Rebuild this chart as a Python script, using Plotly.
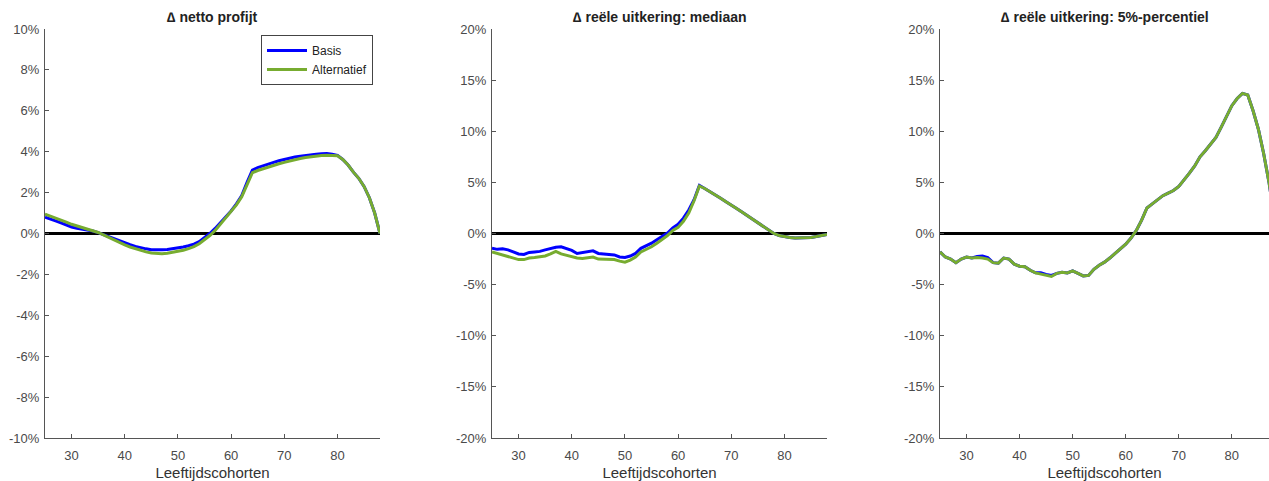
import plotly.graph_objects as go

# Age cohorts on the horizontal axis
ages = list(range(25, 89))

# Δ netto profijt (%)
profijt_basis = [
    0.80, 0.72, 0.62, 0.52, 0.42, 0.32, 0.26, 0.22, 0.18, 0.12,
    0.04, -0.06, -0.16, -0.27, -0.37, -0.46, -0.55, -0.63, -0.70, -0.75,
    -0.79, -0.80, -0.80, -0.78, -0.75, -0.71, -0.66, -0.60, -0.52, -0.40,
    -0.22, 0.00, 0.25, 0.52, 0.80, 1.10, 1.45, 1.85, 2.50, 3.10,
    3.22, 3.32, 3.40, 3.48, 3.56, 3.63, 3.69, 3.74, 3.78, 3.82,
    3.85, 3.88, 3.90, 3.91, 3.88, 3.82, 3.62, 3.35, 3.00, 2.70,
    2.30, 1.75, 1.00, 0.00,
]
profijt_alt = [
    0.95, 0.86, 0.76, 0.66, 0.56, 0.45, 0.37, 0.30, 0.24, 0.16,
    0.05, -0.07, -0.20, -0.33, -0.45, -0.56, -0.66, -0.75, -0.83, -0.90,
    -0.95, -0.98, -0.99, -0.97, -0.93, -0.88, -0.82, -0.74, -0.64, -0.50,
    -0.32, -0.10, 0.15, 0.45, 0.75, 1.05, 1.40, 1.80, 2.40, 2.97,
    3.08, 3.17, 3.25, 3.33, 3.41, 3.48, 3.55, 3.61, 3.67, 3.72,
    3.76, 3.79, 3.81, 3.83, 3.82, 3.80, 3.62, 3.35, 3.00, 2.70,
    2.30, 1.75, 1.00, 0.00,
]

# Δ reële uitkering: mediaan (%)
mediaan_basis = [
    -1.45, -1.55, -1.50, -1.60, -1.80, -2.00, -2.05, -1.85, -1.80, -1.75,
    -1.60, -1.45, -1.35, -1.30, -1.45, -1.65, -1.95, -1.85, -1.80, -1.70,
    -1.95, -2.00, -2.00, -2.10, -2.30, -2.35, -2.20, -1.95, -1.45, -1.20,
    -0.95, -0.60, -0.30, 0.05, 0.55, 0.90, 1.50, 2.30, 3.30, 4.70,
    4.40, 4.10, 3.75, 3.45, 3.10, 2.80, 2.45, 2.10, 1.75, 1.40,
    1.00, 0.65, 0.30, 0.00, -0.20, -0.32, -0.40, -0.45, -0.45, -0.42,
    -0.38, -0.30, -0.20, -0.10,
]
mediaan_alt = [
    -1.80, -1.95, -2.05, -2.20, -2.35, -2.55, -2.55, -2.40, -2.35, -2.30,
    -2.20, -2.00, -1.75, -2.00, -2.15, -2.30, -2.40, -2.45, -2.35, -2.30,
    -2.50, -2.50, -2.50, -2.55, -2.70, -2.80, -2.60, -2.30, -1.80, -1.55,
    -1.30, -0.95, -0.60, -0.20, 0.30, 0.60, 1.20, 2.00, 3.20, 4.65,
    4.40, 4.10, 3.75, 3.45, 3.10, 2.80, 2.45, 2.10, 1.75, 1.40,
    1.00, 0.65, 0.30, 0.00, -0.20, -0.32, -0.40, -0.45, -0.45, -0.42,
    -0.38, -0.30, -0.20, -0.10,
]

# Δ reële uitkering: 5%-percentiel (%)
p5_basis = [
    -1.80, -2.30, -2.50, -2.85, -2.50, -2.30, -2.40, -2.25, -2.20, -2.35,
    -2.85, -2.90, -2.40, -2.50, -3.00, -3.20, -3.25, -3.60, -3.85, -3.85,
    -4.00, -4.10, -3.90, -3.80, -3.85, -3.65, -3.90, -4.15, -4.10, -3.50,
    -3.10, -2.80, -2.40, -1.95, -1.50, -1.05, -0.45, 0.30, 1.30, 2.50,
    2.90, 3.30, 3.70, 3.95, 4.20, 4.60, 5.20, 5.90, 6.60, 7.50,
    8.10, 8.80, 9.40, 10.40, 11.50, 12.50, 13.20, 13.70, 13.55, 12.00,
    10.20, 7.80, 5.00, 1.50,
]
p5_alt = [
    -1.80, -2.30, -2.50, -2.85, -2.50, -2.30, -2.40, -2.35, -2.40, -2.50,
    -2.85, -2.90, -2.40, -2.50, -3.00, -3.20, -3.25, -3.60, -3.85, -3.95,
    -4.10, -4.20, -3.90, -3.80, -3.85, -3.65, -3.90, -4.15, -4.10, -3.50,
    -3.10, -2.80, -2.40, -1.95, -1.50, -1.05, -0.45, 0.30, 1.30, 2.50,
    2.90, 3.30, 3.70, 3.95, 4.20, 4.60, 5.20, 5.90, 6.60, 7.50,
    8.10, 8.80, 9.40, 10.40, 11.50, 12.50, 13.20, 13.70, 13.55, 12.00,
    10.20, 7.80, 5.00, 1.50,
]

panel_titles = [
    "∆ netto profijt",
    "∆ reële uitkering: mediaan",
    "∆ reële uitkering: 5%-percentiel",
]
x_ticks = [30, 40, 50, 60, 70, 80]
y1_ticks = [10, 8, 6, 4, 2, 0, -2, -4, -6, -8, -10]
y1_labels = ["10%", "8%", "6%", "4%", "2%", "0%", "-2%", "-4%", "-6%", "-8%", "-10%"]
y2_ticks = [20, 15, 10, 5, 0, -5, -10, -15, -20]
y2_labels = ["20%", "15%", "10%", "5%", "0%", "-5%", "-10%", "-15%", "-20%"]
x_title = "Leeftijdscohorten"
series_names = ["Basis", "Alternatief"]

BLUE = "#0000ff"
GREEN = "#77ac30"
AXIS = "#555555"
FONT = "Liberation Sans, Arial, sans-serif"

W, H = 1269, 481
ML, MR, MT, MB = 45, 0, 29, 43
PW = W - ML - MR
PH = H - MT - MB


def dom(x0, x1):
    return [(x0 - ML) / PW, (x1 - ML) / PW]


domains = [dom(45, 380), dom(492, 827), dom(940, 1269)]
x_ranges = [[25, 88], [25, 88], [25, 87.0]]

fig = go.Figure()

panels = [
    (profijt_basis, profijt_alt),
    (mediaan_basis, mediaan_alt),
    (p5_basis, p5_alt),
]
for i, (basis, alt) in enumerate(panels):
    xa = "x" if i == 0 else f"x{i + 1}"
    ya = "y" if i == 0 else f"y{i + 1}"
    fig.add_trace(go.Scatter(
        x=ages, y=basis, mode="lines", name=series_names[0],
        line=dict(color=BLUE, width=3), xaxis=xa, yaxis=ya,
        showlegend=(i == 0), legendrank=1,
    ))
    fig.add_trace(go.Scatter(
        x=ages, y=alt, mode="lines", name=series_names[1],
        line=dict(color=GREEN, width=3), xaxis=xa, yaxis=ya,
        showlegend=(i == 0), legendrank=2,
    ))

axis_common = dict(
    showline=True, linecolor=AXIS, linewidth=1,
    ticks="inside", ticklen=4, tickcolor=AXIS, tickwidth=1,
    showgrid=False, mirror=False,
    tickfont=dict(family=FONT, size=13, color="#4a4a4a"),
)

layout = dict(
    width=W, height=H,
    margin=dict(l=ML, r=MR, t=MT, b=MB, pad=0),
    paper_bgcolor="white", plot_bgcolor="white",
    font=dict(family=FONT, color="#333333"),
    showlegend=True,
    legend=dict(
        x=(261 - ML) / PW, y=(H - MB - 35) / PH,
        xanchor="left", yanchor="top",
        bgcolor="white", bordercolor="#444444", borderwidth=1,
        font=dict(family=FONT, size=12, color="#222222"),
        tracegroupgap=0, itemwidth=40,
    ),
    annotations=[],
)

for i in range(3):
    sfx = "" if i == 0 else str(i + 1)
    layout["xaxis" + sfx] = dict(
        axis_common, domain=domains[i], range=x_ranges[i],
        anchor="y" + sfx, tickvals=x_ticks, zeroline=False,
        ticklabelstandoff=5,
        title=dict(text=x_title, font=dict(family=FONT, size=15, color="#333333"),
                   standoff=6),
    )
    if i == 0:
        yt, yl, yr = y1_ticks, y1_labels, [-10, 10]
    else:
        yt, yl, yr = y2_ticks, y2_labels, [-20, 20]
    layout["yaxis" + sfx] = dict(
        axis_common, range=yr, anchor="x" + sfx,
        tickvals=yt, ticktext=yl, ticklabelstandoff=2,
        zeroline=True, zerolinecolor="black", zerolinewidth=3,
    )
    layout["annotations"].append(dict(
        text="<b>" + panel_titles[i] + "</b>",
        x=(domains[i][0] + domains[i][1]) / 2, xref="paper",
        y=(H - MB - 17) / PH, yref="paper",
        xanchor="center", yanchor="middle", showarrow=False,
        font=dict(family=FONT, size=14, color="#222222"),
    ))

fig.update_layout(**layout)
fig.write_html("out.html")
